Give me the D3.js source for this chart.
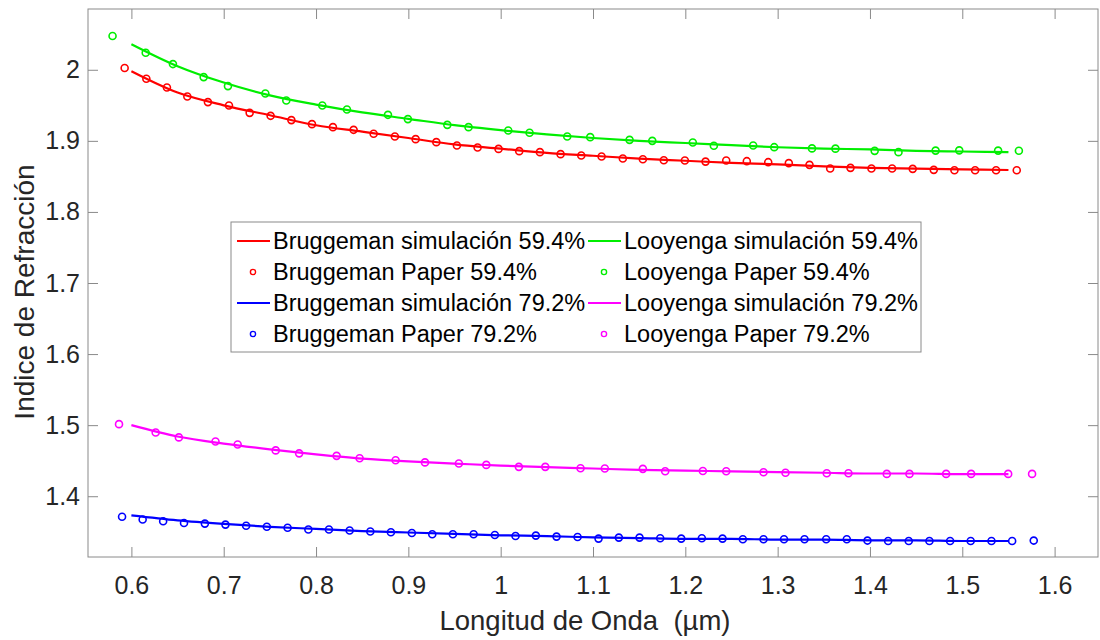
<!DOCTYPE html>
<html>
<head>
<meta charset="utf-8">
<script src="https://cdn.jsdelivr.net/npm/d3@7"></script>
<style>
  body { margin: 0; background: #fff; }
  svg { font-family: "Liberation Sans", Arial, sans-serif; }
</style>
</head>
<body>
<div id="chart"></div>
<script>
// Wavelength grid of the simulation curves (um)
const simLambda = [0.60, 0.65, 0.70, 0.75, 0.80, 0.85, 0.90, 0.95, 1.00, 1.05,
                   1.10, 1.15, 1.20, 1.25, 1.30, 1.35, 1.40, 1.45, 1.50, 1.55];

const bruggSim594 = [1.998, 1.968, 1.950, 1.936, 1.922, 1.913, 1.904, 1.895, 1.889, 1.883,
                     1.879, 1.875, 1.872, 1.869, 1.867, 1.864, 1.862, 1.861, 1.860, 1.859];
const looySim594  = [2.036, 2.005, 1.982, 1.964, 1.951, 1.940, 1.931, 1.922, 1.915, 1.909,
                     1.904, 1.900, 1.897, 1.894, 1.891, 1.889, 1.888, 1.886, 1.885, 1.884];
const bruggSim792 = [1.373, 1.366, 1.361, 1.357, 1.354, 1.351, 1.349, 1.347, 1.345, 1.344,
                     1.342, 1.341, 1.340, 1.340, 1.339, 1.339, 1.338, 1.338, 1.337, 1.337];
const looySim792  = [1.500, 1.484, 1.474, 1.466, 1.459, 1.453, 1.449, 1.446, 1.443, 1.441,
                     1.439, 1.437, 1.436, 1.435, 1.434, 1.433, 1.432, 1.432, 1.431, 1.431];

// Paper points [lambda, n]
const bruggPaper594 = [
  [0.5927, 2.0024], [0.6162, 1.9873], [0.6385, 1.9751], [0.6606, 1.9624], [0.6829, 1.9545],
  [0.7057, 1.9497], [0.7281, 1.9394], [0.7508, 1.9352], [0.7733, 1.9292], [0.7956, 1.9235],
  [0.8183, 1.9193], [0.8407, 1.9155], [0.8624, 1.9099], [0.8854, 1.9061], [0.9079, 1.9024],
  [0.9303, 1.8982], [0.9526, 1.8934], [0.9750, 1.8906], [0.9977, 1.8887], [1.0201, 1.8855],
  [1.0425, 1.8841], [1.0649, 1.8813], [1.0873, 1.8793], [1.1093, 1.8779], [1.1323, 1.8751],
  [1.1540, 1.8742], [1.1767, 1.8728], [1.1995, 1.8723], [1.2219, 1.8708], [1.2443, 1.8723],
  [1.2666, 1.8714], [1.2898, 1.8700], [1.3121, 1.8686], [1.3345, 1.8662], [1.3569, 1.8610],
  [1.3789, 1.8620], [1.4016, 1.8610], [1.4240, 1.8610], [1.4463, 1.8606], [1.4691, 1.8592],
  [1.4915, 1.8587], [1.5139, 1.8587], [1.5366, 1.8587], [1.5590, 1.8587]
];
const looyPaper594 = [
  [0.5796, 2.0475], [0.6155, 2.0239], [0.6450, 2.0080], [0.6783, 1.9897], [0.7046, 1.9770],
  [0.7451, 1.9666], [0.7678, 1.9568], [0.8068, 1.9497], [0.8335, 1.9441], [0.8779, 1.9366],
  [0.8995, 1.9306], [0.9422, 1.9225], [0.9652, 1.9193], [1.0082, 1.9145], [1.0313, 1.9113],
  [1.0721, 1.9061], [1.0970, 1.9052], [1.1396, 1.9014], [1.1642, 1.9000], [1.2081, 1.8976],
  [1.2309, 1.8930], [1.2735, 1.8934], [1.2963, 1.8911], [1.3372, 1.8894], [1.3626, 1.8890],
  [1.4051, 1.8859], [1.4309, 1.8841], [1.4711, 1.8863], [1.4967, 1.8866], [1.5388, 1.8863],
  [1.5613, 1.8861]
];
const bruggPaper792 = [
  [0.5899, 1.3711], [0.6122, 1.3673], [0.6344, 1.3648], [0.6570, 1.3623], [0.6796, 1.3615],
  [0.7019, 1.3601], [0.7243, 1.3585], [0.7467, 1.3570], [0.7692, 1.3556], [0.7917, 1.3531],
  [0.8140, 1.3531], [0.8364, 1.3517], [0.8588, 1.3503], [0.8811, 1.3493], [0.9038, 1.3483],
  [0.9259, 1.3465], [0.9482, 1.3465], [0.9707, 1.3465], [0.9937, 1.3455], [1.0161, 1.3441],
  [1.0381, 1.3446], [1.0605, 1.3432], [1.0833, 1.3427], [1.1060, 1.3404], [1.1280, 1.3418],
  [1.1504, 1.3418], [1.1728, 1.3408], [1.1956, 1.3404], [1.2179, 1.3408], [1.2403, 1.3404],
  [1.2623, 1.3394], [1.2847, 1.3394], [1.3069, 1.3394], [1.3291, 1.3394], [1.3526, 1.3394],
  [1.3749, 1.3394], [1.3973, 1.3376], [1.4197, 1.3370], [1.4420, 1.3370], [1.4644, 1.3370],
  [1.4868, 1.3370], [1.5091, 1.3370], [1.5316, 1.3370], [1.5540, 1.3370], [1.5774, 1.3376]
];
const looyPaper792 = [
  [0.5866, 1.5014], [0.6263, 1.4897], [0.6514, 1.4828], [0.6911, 1.4770], [0.7151, 1.4728],
  [0.7563, 1.4645], [0.7817, 1.4603], [0.8223, 1.4568], [0.8472, 1.4535], [0.8862, 1.4507],
  [0.9180, 1.4476], [0.9547, 1.4461], [0.9844, 1.4441], [1.0197, 1.4413], [1.0483, 1.4413],
  [1.0865, 1.4394], [1.1128, 1.4390], [1.1540, 1.4385], [1.1782, 1.4352], [1.2190, 1.4356],
  [1.2443, 1.4352], [1.2847, 1.4338], [1.3085, 1.4331], [1.3532, 1.4324], [1.3767, 1.4324],
  [1.4182, 1.4314], [1.4428, 1.4314], [1.4825, 1.4314], [1.5096, 1.4314], [1.5497, 1.4314],
  [1.5756, 1.4314]
];

const xTicks = [0.6, 0.7, 0.8, 0.9, 1.0, 1.1, 1.2, 1.3, 1.4, 1.5, 1.6];
const yTicks = [1.4, 1.5, 1.6, 1.7, 1.8, 1.9, 2.0];

const series = [
  { name: "Bruggeman simulación 59.4%", type: "line", color: "#ff0000", y: bruggSim594 },
  { name: "Bruggeman Paper 59.4%", type: "dot", color: "#ff0000", pts: bruggPaper594 },
  { name: "Bruggeman simulación 79.2%", type: "line", color: "#0000ff", y: bruggSim792 },
  { name: "Bruggeman Paper 79.2%", type: "dot", color: "#0000ff", pts: bruggPaper792 },
  { name: "Looyenga simulación 59.4%", type: "line", color: "#00ee00", y: looySim594 },
  { name: "Looyenga Paper 59.4%", type: "dot", color: "#00ee00", pts: looyPaper594 },
  { name: "Looyenga simulación 79.2%", type: "line", color: "#ff00ff", y: looySim792 },
  { name: "Looyenga Paper 79.2%", type: "dot", color: "#ff00ff", pts: looyPaper792 }
];

const W = 1100, H = 640;
const plotL = 88, plotR = 1098, plotT = 9, plotB = 557;

const x = d3.scaleLinear().domain([0.553, 1.647]).range([plotL, plotR]);
const y = d3.scaleLinear().domain([1.3145, 2.0855]).range([plotB, plotT]);

const svg = d3.select("#chart").append("svg")
  .attr("width", W)
  .attr("height", H);

svg.append("rect").attr("width", W).attr("height", H).attr("fill", "#fff");

const axisColor = "#262626";
const fmt = d => String(+d.toFixed(1));

// axes with inward ticks, box on all four sides
const gx = svg.append("g")
  .attr("transform", "translate(0," + plotB + ")")
  .call(d3.axisBottom(x).tickValues(xTicks).tickSize(-10).tickPadding(19).tickFormat(fmt));
const gxTop = svg.append("g")
  .attr("transform", "translate(0," + plotT + ")")
  .call(d3.axisTop(x).tickValues(xTicks).tickSize(-10).tickFormat(""));
const gy = svg.append("g")
  .attr("transform", "translate(" + plotL + ",0)")
  .call(d3.axisLeft(y).tickValues(yTicks).tickSize(-10).tickPadding(8).tickFormat(fmt));
const gyRight = svg.append("g")
  .attr("transform", "translate(" + plotR + ",0)")
  .call(d3.axisRight(y).tickValues(yTicks).tickSize(-10).tickFormat(""));

[gx, gxTop, gy, gyRight].forEach(g => {
  g.select(".domain").remove();
  g.selectAll(".tick line").attr("stroke", "#8a8a8a").attr("stroke-width", 1);
  g.selectAll(".tick text").attr("fill", axisColor).attr("font-size", 25)
    .attr("font-family", "Liberation Sans, Arial, sans-serif");
});

svg.append("rect")
  .attr("x", plotL).attr("y", plotT)
  .attr("width", plotR - plotL).attr("height", plotB - plotT)
  .attr("fill", "none").attr("stroke", "#8a8a8a").attr("stroke-width", 1);

// axis titles
svg.append("text")
  .attr("x", 585).attr("y", 630)
  .attr("text-anchor", "middle").attr("font-size", 27.5).attr("fill", axisColor)
  .attr("xml:space", "preserve")
  .text("Longitud de Onda  (µm)");
svg.append("text")
  .attr("transform", "translate(34,292) rotate(-90)")
  .attr("text-anchor", "middle").attr("font-size", 28).attr("fill", axisColor)
  .text("Indice de Refracción");

const line = d3.line()
  .x((d, i) => x(simLambda[i]))
  .y(d => y(d))
  .curve(d3.curveMonotoneX);

const plot = svg.append("g");

series.filter(s => s.type === "line").forEach(s => {
  plot.append("path")
    .datum(s.y)
    .attr("fill", "none")
    .attr("stroke", s.color)
    .attr("stroke-width", 2.2)
    .attr("d", line);
});

series.filter(s => s.type === "dot").forEach(s => {
  plot.selectAll(null)
    .data(s.pts)
    .enter()
    .append("circle")
    .attr("cx", d => x(d[0]))
    .attr("cy", d => y(d[1]))
    .attr("r", 3.5)
    .attr("fill", "none")
    .attr("stroke", s.color)
    .attr("stroke-width", 1.6);
});

// legend, two columns of four rows
const lg = svg.append("g").attr("transform", "translate(231,222)");
lg.append("rect")
  .attr("width", 690).attr("height", 130)
  .attr("fill", "#fff").attr("stroke", "#8a8a8a").attr("stroke-width", 1);

const colX = [6, 357];
const rowH = 31;
series.forEach((s, i) => {
  const col = Math.floor(i / 4), row = i % 4;
  const g = lg.append("g")
    .attr("transform", "translate(" + colX[col] + "," + (19 + row * rowH) + ")");
  if (s.type === "line") {
    g.append("line").attr("x1", 0).attr("x2", 33).attr("y1", 0).attr("y2", 0)
      .attr("stroke", s.color).attr("stroke-width", 2.2);
  } else {
    g.append("circle").attr("cx", 16).attr("cy", 0).attr("r", 2.6)
      .attr("fill", "none").attr("stroke", s.color).attr("stroke-width", 1.4);
  }
  g.append("text")
    .attr("x", 36).attr("y", 0).attr("dy", "0.36em")
    .attr("font-size", 23.5).attr("fill", "#000")
    .text(s.name);
});
</script>
</body>
</html>
